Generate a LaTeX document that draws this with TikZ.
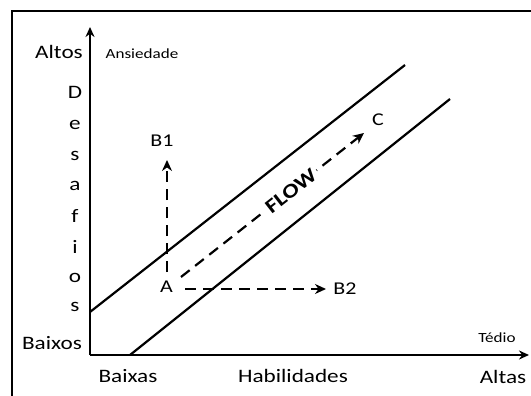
\documentclass[tikz,border=0pt]{standalone}
\usepackage{fontspec}
\setmainfont{Carlito}[FakeStretch=1.22]
\usetikzlibrary{arrows.meta}
\begin{document}
\begin{tikzpicture}[x=1pt,y=-1pt,
  frame/.style={line width=2.2pt},
  axis/.style={line width=2.2pt,-{Stealth[length=10pt,width=9pt]}},
  band/.style={line width=2.2pt},
  move/.style={line width=2.2pt,dash pattern=on 11pt off 7pt,-{Stealth[length=11pt,width=10pt]}},
  lbl/.style={inner sep=0pt,font=\fontsize{19}{22}\selectfont},
  pt/.style={inner sep=0pt,font=\fontsize{18}{21}\selectfont},
  small/.style={inner sep=0pt,font=\fontsize{14}{17}\selectfont},
  flowlbl/.style={inner sep=3pt,fill=white,font=\fontsize{20}{24}\selectfont\bfseries,rotate=38}]
\useasboundingbox (0,0) rectangle (531,396);
% frame (partly cut off at right and bottom)
\coordinate (F1) at (12,396);
\coordinate (F2) at (12,11);
\coordinate (F3) at (531,11);
\draw[frame] (F1) -- (F2) -- (F3);
% axes
\coordinate (O) at (90,355);
\coordinate (Ytip) at (90,27);
\coordinate (Xtip) at (529,355);
\draw[axis] (O) -- (Ytip);
\draw[axis] (O) -- (Xtip);
% flow band
\coordinate (U1) at (90,312);
\coordinate (U2) at (405,65);
\coordinate (L1) at (130,355);
\coordinate (L2) at (450,99);
\draw[band] (U1) -- (U2);
\draw[band] (L1) -- (L2);
% axis labels
\node[lbl] (altos) at (59,52) {Altos};
\node[small] (ansiedade) at (142,54) {Ansiedade};
\node[lbl] (d1) at (75,92) {D};
\node[lbl] (d2) at (75,125) {e};
\node[lbl] (d3) at (75,156) {s};
\node[lbl] (d4) at (75,186) {a};
\node[lbl] (d5) at (75,216) {f};
\node[lbl] (d6) at (75,247) {i};
\node[lbl] (d7) at (75,278) {o};
\node[lbl] (d8) at (75,307) {s};
\node[lbl] (baixos) at (52,343) {Baixos};
\node[lbl] (baixas) at (128,376) {Baixas};
\node[lbl] (habil) at (293,376) {Habilidades};
\node[lbl] (altas) at (503,377) {Altas};
\node[small] (tedio) at (497,338) {Tédio};
% points
\node[pt] (A) at (166.5,287) {A};
\node[pt] (B1) at (162,141) {B1};
\node[pt] (B2) at (345,289) {B2};
\node[pt] (C) at (378,120) {C};
% moves
\coordinate (a1) at (167,272);
\coordinate (b1) at (167,160);
\coordinate (a2) at (185,289);
\coordinate (b2) at (326,289);
\coordinate (a3) at (181,277);
\coordinate (b3) at (364,133);
\draw[move] (a1) -- (b1);
\draw[move] (a2) -- (b2);
\draw[move] (a3) -- (b3);
\node[flowlbl] (flow) at (291,191) {FLOW};
\end{tikzpicture}
\end{document}
